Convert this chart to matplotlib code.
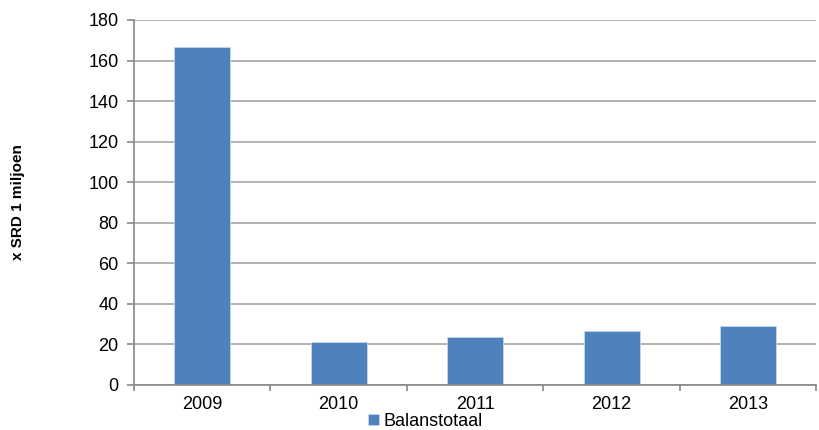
import matplotlib.pyplot as plt
import numpy as np

plt.rcParams['font.family'] = ['Liberation Sans', 'DejaVu Sans']

years = ['2009', '2010', '2011', '2012', '2013']
balanstotaal = [166.5, 21.2, 23.7, 26.6, 29.2]

fig = plt.figure(figsize=(8.2, 4.3), dpi=100)
ax = fig.add_axes([0.1634, 0.1047, 0.832, 0.8488])

x = np.arange(len(years))
ax.bar(x, balanstotaal, width=0.41, color='#4F81BD', edgecolor='#c6d6ea',
       linewidth=0.6, label='Balanstotaal', zorder=3)

ax.set_xlim(-0.5, len(years) - 0.5)
ax.set_ylim(0, 180)
ax.set_yticks(np.arange(0, 181, 20))
ax.set_xticks(x)
ax.set_xticklabels(years)
ax.set_xticks(np.arange(-0.5, len(years) + 0.5, 1), minor=True)
ax.tick_params(axis='x', which='major', length=0, pad=8, labelsize=13)
ax.tick_params(axis='x', which='minor', length=4, color='#888888', width=1.2)
ax.tick_params(axis='y', length=5, color='#888888', width=1.2, labelsize=13, pad=6)

ax.grid(axis='y', color='#a6a6a6', linewidth=1.2, zorder=0)
for s in ['top', 'right']:
    ax.spines[s].set_visible(False)
for s in ['left', 'bottom']:
    ax.spines[s].set_color('#888888')
    ax.spines[s].set_linewidth(1.2)
ax.spines['bottom'].set_zorder(4)

ax.set_ylabel('x SRD 1 miljoen', fontweight='bold', fontsize=11)
ax.yaxis.set_label_coords(-0.16, 0.5)

ax.legend(loc='upper left', bbox_to_anchor=(0.343, -0.077), frameon=False,
          fontsize=13, handlelength=0.6, handleheight=0.6, handletextpad=0.25,
          borderaxespad=0, borderpad=0)

fig.savefig('out.png', dpi=100)
